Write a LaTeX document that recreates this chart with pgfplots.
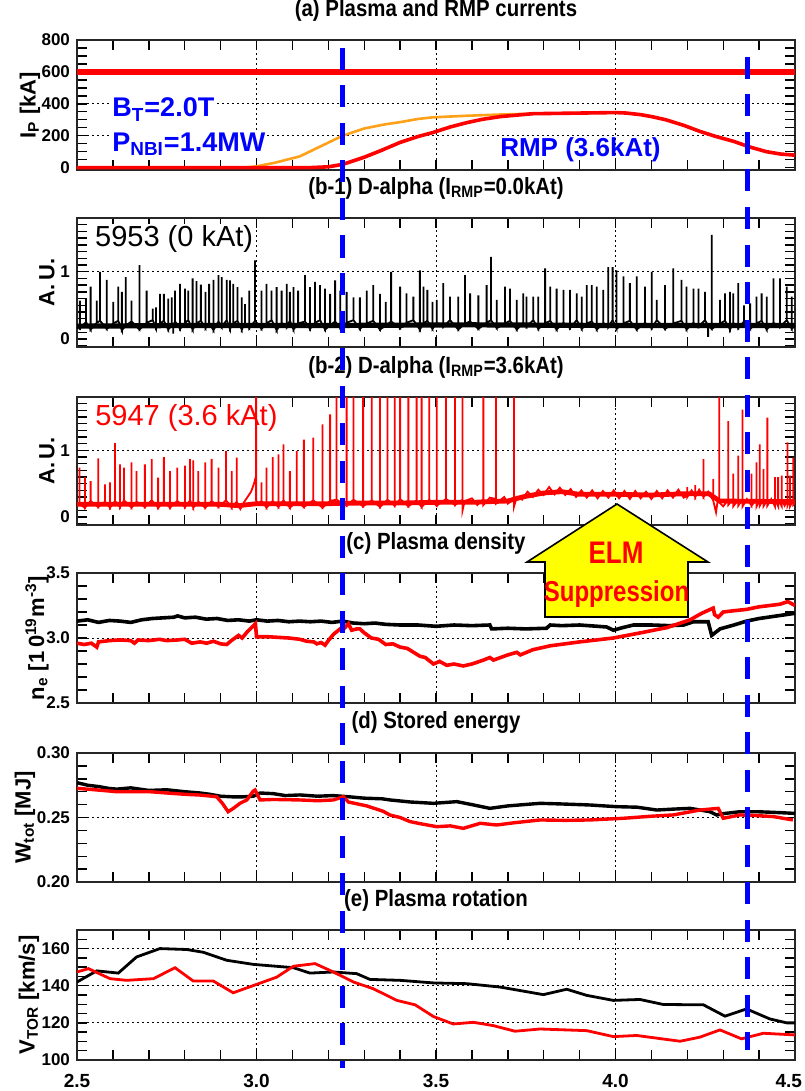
\documentclass[border=0pt]{standalone}
\usepackage{fontspec}
\setmainfont{Liberation Sans}
\usepackage{graphicx}
\usepackage{pgfplots}
\pgfplotsset{compat=1.18}
\definecolor{iorange}{RGB}{255,160,25}
\definecolor{iyellow}{RGB}{255,255,0}
\newcommand{\tall}[1]{\scalebox{1}[1.15]{#1}}
\pgfplotsset{
  panel/.style={
    scale only axis, width=359pt, xmin=2.5, xmax=4.5, anchor=north west,
    xtick={2.5,3,3.5,4,4.5}, minor xtick={2.6,2.7,2.8,2.9,3.1,3.2,3.3,3.4,3.6,3.7,3.8,3.9,4.1,4.2,4.3,4.4},
    xticklabels={},
    axis line style={line width=1pt, black!85},
    every tick/.style={black, line width=0.7pt},
    major tick length=5pt, minor tick length=5pt,
    xmajorgrids,
    major grid style={black, line width=0.5pt, dash pattern=on 0.9pt off 1.6pt},
    yticklabel style={font=\fontsize{8.5}{9}\selectfont\bfseries},
    xticklabel style={font=\fontsize{9.5}{10}\selectfont\bfseries},
    title style={font=\fontsize{10.2}{12}\selectfont\bfseries, at={(0.5,1)}, anchor=south, yshift=0pt},
    every axis y label/.style={rotate=90, anchor=center, font=\fontsize{11}{12}\selectfont\bfseries},
  }
}
\begin{document}
\begin{tikzpicture}
\path[use as bounding box] (0,0) rectangle (402pt,-545.5pt);

% ---------------- (a)
\begin{axis}[panel, at={(38.5pt,-20pt)}, height=65pt, ymin=-15, ymax=800,
  ytick={0,200,400,600,800}, yticklabels={0,200,400,600,800},
  minor ytick={50,100,150,250,300,350,450,500,550,650,700,750},
  extra y ticks={200,400,600}, extra y tick labels={}, extra y tick style={grid=major},
  title={\tall{(a) Plasma and RMP currents}},
  ylabel={I\textsubscript{P} [kA]}, ylabel style={at={(axis description cs:-0.0655,0.5)}}]
\node[anchor=base west, text=blue, fill=white, inner sep=1pt, font=\fontsize{13.5}{15}\selectfont\bfseries] at (rel axis cs:0.046,0.408) {B\textsubscript{T}=2.0T};
\node[anchor=base west, text=blue, fill=white, inner sep=1pt, font=\fontsize{13.5}{15}\selectfont\bfseries] at (rel axis cs:0.046,0.141) {P\textsubscript{NBI}=1.4MW};
\node[anchor=base west, text=blue, inner sep=0pt, font=\fontsize{13}{15}\selectfont\bfseries] at (rel axis cs:0.589,0.102) {RMP (3.6kAt)};
\addplot[iorange, line width=1.3pt] coordinates {(2.5,0) (2.97,0) (3.00,8) (3.05,30) (3.12,70) (3.18,135) (3.24,200) (3.30,245) (3.36,272) (3.40,285) (3.45,305) (3.49,315) (3.586,325) (3.68,333) (3.77,338) (3.87,341) (4.0,345)};
\addplot[red, line width=1.8pt] coordinates {(2.5,0) (3.15,0) (3.20,5) (3.24,20) (3.30,65) (3.35,110) (3.40,158) (3.45,195) (3.49,219) (3.54,255) (3.586,282) (3.63,303) (3.68,320) (3.77,338) (3.87,341) (4.00,345) (4.03,342) (4.07,332) (4.10,320) (4.14,300) (4.19,265) (4.235,227) (4.28,195) (4.33,164) (4.37,132) (4.42,100) (4.46,85) (4.5,78)};
\addplot[red, line width=3pt] coordinates {(2.5,600) (4.5,600)};
\end{axis}

% ---------------- (b-1)
\begin{axis}[panel, at={(38.5pt,-109pt)}, height=64.5pt, ymin=-0.12, ymax=1.8,
  ytick={0,1}, yticklabels={0,1},
  minor ytick={-0.1,0.1,0.2,0.3,0.4,0.5,0.6,0.7,0.8,0.9,1.1,1.2,1.3,1.4,1.5,1.6,1.7},
  extra y ticks={1}, extra y tick labels={}, extra y tick style={grid=major},
  title={\tall{(b-1) D-alpha (I\textsubscript{RMP}=0.0kAt)}},
  ylabel={A.\,U.}, ylabel style={at={(axis description cs:-0.0418,0.5)}}]
\node[anchor=base west, fill=white, inner sep=1pt, font=\fontsize{14.5}{16}\selectfont] at (rel axis cs:0.022,0.778) {5953 (0 kAt)};
\addplot[black, line width=2.6pt] coordinates {(2.5,0.19) (2.8,0.2) (3.2,0.2) (3.6,0.21) (4.0,0.2) (4.5,0.2)};
\addplot[black, line width=0.9pt] coordinates {(2.5,0.2)
(2.508,0.16)(2.508,0.57)(2.508,0.16) (2.525,0.25)(2.525,0.60)(2.525,0.25) (2.538,0.14)(2.538,0.78)(2.538,0.14)
(2.555,0.24)(2.555,0.57)(2.555,0.24) (2.564,0.27)(2.564,1.00)(2.564,0.27) (2.583,0.15)(2.583,0.88)(2.583,0.15)
(2.601,0.23)(2.601,0.55)(2.601,0.23) (2.615,0.27)(2.615,0.78)(2.615,0.27) (2.625,0.13)(2.625,0.70)(2.625,0.13)
(2.636,0.20)(2.636,0.92)(2.636,0.20) (2.652,0.26)(2.652,0.57)(2.652,0.26) (2.674,0.14)(2.674,1.10)(2.674,0.14)
(2.694,0.24)(2.694,0.72)(2.694,0.24) (2.711,0.28)(2.711,0.45)(2.711,0.28) (2.720,0.16)(2.720,0.47)(2.720,0.16)
(2.731,0.23)(2.731,0.67)(2.731,0.23) (2.742,0.27)(2.742,0.67)(2.742,0.27) (2.754,0.14)(2.754,0.60)(2.754,0.14)
(2.764,0.20)(2.764,0.62)(2.764,0.20) (2.768,0.20)(2.768,0.08)(2.768,0.20) (2.773,0.26)(2.773,0.72)(2.773,0.26)
(2.787,0.15)(2.787,0.82)(2.787,0.15) (2.801,0.24)(2.801,0.75)(2.801,0.24) (2.810,0.28)(2.810,0.72)(2.810,0.28)
(2.822,0.14)(2.822,0.90)(2.822,0.14) (2.833,0.23)(2.833,0.86)(2.833,0.23) (2.845,0.27)(2.845,0.81)(2.845,0.27)
(2.858,0.16)(2.858,0.70)(2.858,0.16) (2.868,0.24)(2.868,0.82)(2.868,0.24) (2.880,0.13)(2.880,0.88)(2.880,0.13)
(2.894,0.26)(2.894,0.95)(2.894,0.26) (2.903,0.18)(2.903,0.92)(2.903,0.18) (2.917,0.28)(2.917,0.88)(2.917,0.28)
(2.926,0.15)(2.926,0.87)(2.926,0.15) (2.935,0.23)(2.935,0.82)(2.935,0.23) (2.947,0.27)(2.947,0.77)(2.947,0.27)
(2.959,0.14)(2.959,0.62)(2.959,0.14) (2.968,0.24)(2.968,0.52)(2.968,0.24) (2.980,0.16)(2.980,0.72)(2.980,0.16)
(2.996,0.27)(2.996,1.17)(2.996,0.27) (3.014,0.15)(3.014,0.72)(3.014,0.15) (3.028,0.23)(3.028,0.82)(3.028,0.23)
(3.042,0.28)(3.042,0.72)(3.042,0.28) (3.056,0.13)(3.056,0.77)(3.056,0.13) (3.070,0.24)(3.070,0.72)(3.070,0.24)
(3.084,0.18)(3.084,0.82)(3.084,0.18) (3.093,0.27)(3.093,0.70)(3.093,0.27) (3.103,0.14)(3.103,0.77)(3.103,0.14)
(3.116,0.23)(3.116,0.72)(3.116,0.23) (3.135,0.26)(3.135,0.95)(3.135,0.26) (3.149,0.15)(3.149,0.77)(3.149,0.15)
(3.163,0.24)(3.163,0.85)(3.163,0.24) (3.177,0.28)(3.177,0.80)(3.177,0.28) (3.191,0.14)(3.191,0.75)(3.191,0.14)
(3.205,0.20)(3.205,0.67)(3.205,0.20) (3.219,0.26)(3.219,0.87)(3.219,0.26) (3.233,0.16)(3.233,0.72)(3.233,0.16)
(3.251,0.24)(3.251,0.70)(3.251,0.24) (3.270,0.28)(3.270,0.62)(3.270,0.28) (3.288,0.15)(3.288,0.62)(3.288,0.15)
(3.307,0.23)(3.307,0.72)(3.307,0.23) (3.325,0.27)(3.325,0.80)(3.325,0.27) (3.344,0.14)(3.344,0.67)(3.344,0.14)
(3.360,0.20)(3.360,0.55)(3.360,0.20) (3.375,0.26)(3.375,1.00)(3.375,0.26) (3.400,0.16)(3.400,0.78)(3.400,0.16)
(3.418,0.24)(3.418,0.68)(3.418,0.24) (3.437,0.28)(3.437,0.63)(3.437,0.28) (3.455,0.14)(3.455,1.02)(3.455,0.14)
(3.465,0.23)(3.465,0.78)(3.465,0.23) (3.476,0.27)(3.476,0.73)(3.476,0.27) (3.490,0.15)(3.490,0.55)(3.490,0.15)
(3.502,0.24)(3.502,0.58)(3.502,0.24) (3.520,0.18)(3.520,0.83)(3.520,0.18) (3.539,0.28)(3.539,0.63)(3.539,0.28)
(3.562,0.14)(3.562,0.63)(3.562,0.14) (3.581,0.23)(3.581,0.95)(3.581,0.23) (3.595,0.26)(3.595,0.68)(3.595,0.26)
(3.618,0.15)(3.618,0.65)(3.618,0.15) (3.641,0.24)(3.641,0.80)(3.641,0.24) (3.653,0.28)(3.653,1.22)(3.653,0.28)
(3.669,0.16)(3.669,0.58)(3.669,0.16) (3.692,0.23)(3.692,0.78)(3.692,0.23) (3.706,0.27)(3.706,0.75)(3.706,0.27)
(3.725,0.14)(3.725,0.58)(3.725,0.14) (3.743,0.24)(3.743,0.68)(3.743,0.24) (3.752,0.18)(3.752,0.63)(3.752,0.18)
(3.771,0.28)(3.771,0.63)(3.771,0.28) (3.785,0.15)(3.785,0.63)(3.785,0.15) (3.804,0.23)(3.804,1.05)(3.804,0.23)
(3.818,0.27)(3.818,0.78)(3.818,0.27) (3.836,0.14)(3.836,0.75)(3.836,0.14) (3.855,0.24)(3.855,0.73)(3.855,0.24)
(3.873,0.16)(3.873,0.73)(3.873,0.16) (3.892,0.28)(3.892,0.68)(3.892,0.28) (3.906,0.15)(3.906,0.63)(3.906,0.15)
(3.920,0.23)(3.920,0.80)(3.920,0.23) (3.934,0.26)(3.934,0.80)(3.934,0.26) (3.948,0.14)(3.948,0.78)(3.948,0.14)
(3.966,0.24)(3.966,0.73)(3.966,0.24) (3.980,0.18)(3.980,1.07)(3.980,0.18) (3.992,0.28)(3.992,1.07)(3.992,0.28)
(4.003,0.15)(4.003,1.02)(4.003,0.15) (4.022,0.23)(4.022,0.93)(4.022,0.23) (4.040,0.27)(4.040,0.83)(4.040,0.27)
(4.059,0.14)(4.059,0.93)(4.059,0.14) (4.082,0.24)(4.082,0.78)(4.082,0.24) (4.101,0.16)(4.101,1.00)(4.101,0.16)
(4.115,0.28)(4.115,0.58)(4.115,0.28) (4.138,0.15)(4.138,0.80)(4.138,0.15) (4.161,0.23)(4.161,1.05)(4.161,0.23)
(4.184,0.27)(4.184,0.88)(4.184,0.27) (4.198,0.14)(4.198,0.78)(4.198,0.14) (4.217,0.24)(4.217,0.75)(4.217,0.24)
(4.231,0.18)(4.231,0.75)(4.231,0.18) (4.249,0.28)(4.249,0.70)(4.249,0.28) (4.258,0.20)(4.258,0.03)(4.258,0.20)
(4.268,0.15)(4.268,1.55)(4.268,0.15) (4.291,0.23)(4.291,0.58)(4.291,0.23) (4.305,0.27)(4.305,0.68)(4.305,0.27)
(4.319,0.14)(4.319,0.70)(4.319,0.14) (4.328,0.24)(4.328,0.68)(4.328,0.24) (4.342,0.16)(4.342,0.83)(4.342,0.16)
(4.358,0.26)(4.358,0.50)(4.358,0.26) (4.375,0.15)(4.375,0.53)(4.375,0.15) (4.393,0.23)(4.393,0.63)(4.393,0.23)
(4.407,0.27)(4.407,0.68)(4.407,0.27) (4.421,0.14)(4.421,0.63)(4.421,0.14) (4.440,0.24)(4.440,0.90)(4.440,0.24)
(4.458,0.18)(4.458,0.90)(4.458,0.18) (4.477,0.28)(4.477,0.78)(4.477,0.28) (4.491,0.15)(4.491,0.63)(4.491,0.15)
(4.5,0.2)};
\end{axis}

% ---------------- (b-2)
\begin{axis}[panel, at={(38.5pt,-198.5pt)}, height=64pt, ymin=-0.12, ymax=1.8,
  ytick={0,1}, yticklabels={0,1},
  minor ytick={-0.1,0.1,0.2,0.3,0.4,0.5,0.6,0.7,0.8,0.9,1.1,1.2,1.3,1.4,1.5,1.6,1.7},
  extra y ticks={1}, extra y tick labels={}, extra y tick style={grid=major},
  title={\tall{(b-2) D-alpha (I\textsubscript{RMP}=3.6kAt)}},
  ylabel={A.\,U.}, ylabel style={at={(axis description cs:-0.0418,0.5)}}]
\node[anchor=base west, text=red, inner sep=0pt, font=\fontsize{14.5}{16}\selectfont] at (rel axis cs:0.025,0.781) {5947 (3.6 kAt)};
\addplot[red, line width=2.4pt] coordinates {(2.5,0.19) (2.6,0.19) (2.7,0.19) (2.8,0.19) (2.9,0.19) (2.95,0.17) (3.0,0.2) (3.1,0.2) (3.2,0.2) (3.3,0.21) (3.4,0.21) (3.5,0.22) (3.6,0.22) (3.7,0.24) (3.74,0.3) (3.8,0.36) (3.85,0.38) (3.9,0.34) (4.0,0.34) (4.1,0.33) (4.2,0.35) (4.26,0.35) (4.29,0.24) (4.5,0.23)};
\addplot[red, line width=0.9pt] coordinates {(2.5,0.18)
(2.507,0.19)(2.507,0.74)(2.507,0.19) (2.522,0.14)(2.522,0.60)(2.522,0.14) (2.538,0.24)(2.538,0.54)(2.538,0.24)
(2.559,0.15)(2.559,0.88)(2.559,0.15) (2.578,0.23)(2.578,0.49)(2.578,0.23) (2.592,0.14)(2.592,0.52)(2.592,0.14)
(2.606,0.24)(2.606,1.11)(2.606,0.24) (2.620,0.15)(2.620,0.79)(2.620,0.15) (2.631,0.25)(2.631,0.74)(2.631,0.25)
(2.652,0.14)(2.652,0.82)(2.652,0.14) (2.666,0.23)(2.666,0.69)(2.666,0.23) (2.689,0.15)(2.689,0.79)(2.689,0.15)
(2.708,0.25)(2.708,0.87)(2.708,0.25) (2.726,0.14)(2.726,0.59)(2.726,0.14) (2.742,0.23)(2.742,0.90)(2.742,0.23)
(2.759,0.14)(2.759,0.69)(2.759,0.14) (2.779,0.24)(2.779,0.74)(2.779,0.24) (2.801,0.15)(2.801,0.77)(2.801,0.15)
(2.815,0.25)(2.815,0.87)(2.815,0.25) (2.824,0.14)(2.824,0.85)(2.824,0.14) (2.838,0.23)(2.838,0.69)(2.838,0.23)
(2.857,0.14)(2.857,0.82)(2.857,0.14) (2.875,0.24)(2.875,0.87)(2.875,0.24) (2.894,0.15)(2.894,0.74)(2.894,0.15)
(2.915,0.25)(2.915,0.99)(2.915,0.25) (2.931,0.14)(2.931,0.69)(2.931,0.14) (2.945,0.23)(2.945,0.89)(2.945,0.23)
(2.955,0.12)(2.965,0.22)(2.975,0.30)(2.985,0.38)(2.993,0.50)(2.999,0.62)(2.999,1.90)(2.999,0.25)(3.004,0.20)
(3.014,0.24)(3.014,0.52)(3.014,0.24) (3.028,0.14)(3.028,0.74)(3.028,0.14) (3.045,0.24)(3.045,0.90)(3.045,0.24)
(3.061,0.15)(3.061,0.94)(3.061,0.15) (3.075,0.25)(3.075,1.09)(3.075,0.25) (3.093,0.14)(3.093,0.69)(3.093,0.14)
(3.112,0.23)(3.112,0.99)(3.112,0.23) (3.132,0.15)(3.132,1.16)(3.132,0.15) (3.158,0.25)(3.158,1.19)(3.158,0.25)
(3.184,0.14)(3.184,1.39)(3.184,0.14) (3.205,0.24)(3.205,1.54)(3.205,0.24) (3.223,0.26)(3.223,1.90)(3.223,0.26)
(3.251,0.17)(3.251,1.90)(3.251,0.17) (3.270,0.26)(3.270,1.90)(3.270,0.26) (3.297,0.16)(3.297,1.90)(3.297,0.16)
(3.321,0.25)(3.321,1.90)(3.321,0.25) (3.344,0.15)(3.344,1.90)(3.344,0.15) (3.365,0.26)(3.365,1.90)(3.365,0.26)
(3.385,0.17)(3.385,1.90)(3.385,0.17) (3.400,0.27)(3.400,1.90)(3.400,0.27) (3.423,0.16)(3.423,1.90)(3.423,0.16)
(3.446,0.25)(3.446,1.90)(3.446,0.25) (3.460,0.15)(3.460,1.90)(3.460,0.15) (3.481,0.26)(3.481,1.90)(3.481,0.26)
(3.502,0.17)(3.502,1.90)(3.502,0.17) (3.528,0.27)(3.528,1.90)(3.528,0.27) (3.553,0.18)(3.553,1.90)(3.553,0.18)
(3.574,0.26)(3.574,1.90)(3.574,0.10)(3.580,0.24) (3.60,0.28)(3.615,0.18)
(3.632,0.27)(3.632,1.90)(3.632,0.18) (3.65,0.29)
(3.667,0.27)(3.667,1.90)(3.667,0.20) (3.69,0.30)(3.70,0.20)
(3.717,0.27)(3.717,1.90)(3.717,0.15)
(3.725,0.30)(3.74,0.26)(3.755,0.38)(3.77,0.30)(3.785,0.41)(3.80,0.33)(3.815,0.45)(3.83,0.34)(3.845,0.44)(3.86,0.33)(3.875,0.42)(3.89,0.30)(3.905,0.40)(3.92,0.29)(3.935,0.40)(3.95,0.28)(3.965,0.39)(3.98,0.29)(3.995,0.40)(4.01,0.28)(4.025,0.39)(4.04,0.27)(4.055,0.39)(4.07,0.28)(4.085,0.38)(4.10,0.27)(4.115,0.39)(4.13,0.28)(4.145,0.40)(4.16,0.29)(4.175,0.41)(4.19,0.29)
(4.200,0.32)(4.200,0.45)(4.200,0.30) (4.212,0.40) (4.222,0.30)(4.222,0.48)(4.222,0.30) (4.233,0.41) (4.245,0.30)(4.245,0.87)(4.245,0.30)
(4.258,0.38) (4.272,0.25)(4.272,0.57)(4.272,0.25) (4.280,0.07)(4.284,0.22)
(4.289,0.22)(4.289,1.90)(4.289,0.22) (4.300,0.16) (4.314,0.26)(4.314,1.44)(4.314,0.18) (4.328,0.27)(4.328,0.65)(4.328,0.16)
(4.342,0.26)(4.342,0.92)(4.342,0.17) (4.354,0.27)(4.354,1.61)(4.354,0.16) (4.366,0.27) (4.379,0.17)(4.379,0.65)(4.379,0.17)
(4.393,0.27)(4.393,0.82)(4.393,0.16) (4.402,0.26)(4.402,1.09)(4.402,0.17) (4.412,0.27)(4.412,0.72)(4.412,0.16)
(4.423,0.26)(4.423,1.49)(4.423,0.17) (4.434,0.27) (4.444,0.16)(4.444,0.60)(4.444,0.27) (4.453,0.16)(4.453,0.60)(4.453,0.26)
(4.463,0.16)(4.463,0.62)(4.463,0.27) (4.471,0.17) (4.479,0.26)(4.479,1.12)(4.479,0.17) (4.486,0.27)(4.486,0.62)(4.486,0.16)
(4.495,0.26)(4.495,0.89)(4.495,0.18) (4.5,0.21)};
\end{axis}

% ---------------- (c)
\begin{axis}[panel, at={(38.5pt,-286.5pt)}, height=65pt, ymin=2.5, ymax=3.5,
  ytick={2.5,3.0,3.5}, yticklabels={2.5,3.0,3.5}, ymajorgrids,
  minor ytick={2.6,2.7,2.8,2.9,3.1,3.2,3.3,3.4},
  title={\tall{(c) Plasma density}},
  ylabel={n\textsubscript{e} [1\,0\textsuperscript{19}m\textsuperscript{-3}]}, ylabel style={at={(axis description cs:-0.0557,0.5)}}]
\addplot[black, line width=1.8pt] coordinates {(2.50,3.13) (2.53,3.14) (2.56,3.12) (2.59,3.135) (2.62,3.13) (2.65,3.12) (2.68,3.14) (2.71,3.15) (2.74,3.155) (2.77,3.16) (2.78,3.17) (2.80,3.155) (2.83,3.16) (2.86,3.145) (2.89,3.15) (2.92,3.135) (2.95,3.14) (2.98,3.13) (3.00,3.14) (3.03,3.13) (3.06,3.135) (3.09,3.125) (3.12,3.13) (3.15,3.125) (3.18,3.13) (3.21,3.12) (3.24,3.13) (3.27,3.115) (3.30,3.11) (3.33,3.115) (3.36,3.105) (3.40,3.10) (3.45,3.10) (3.50,3.09) (3.55,3.10) (3.60,3.095) (3.65,3.10) (3.655,3.07) (3.70,3.075) (3.75,3.07) (3.808,3.075) (3.818,3.10) (3.85,3.095) (3.90,3.10) (3.95,3.09) (3.975,3.085) (3.994,3.06) (4.02,3.08) (4.05,3.10) (4.10,3.10) (4.15,3.095) (4.19,3.10) (4.217,3.125) (4.258,3.125) (4.268,3.02) (4.291,3.07) (4.33,3.10) (4.365,3.13) (4.40,3.15) (4.45,3.17) (4.50,3.19)};
\addplot[red, line width=1.8pt] coordinates {(2.50,2.96) (2.52,2.95) (2.54,2.96) (2.555,2.93) (2.56,2.97) (2.59,2.98) (2.62,2.985) (2.65,2.98) (2.66,2.96) (2.67,2.985) (2.70,2.98) (2.73,2.99) (2.75,2.98) (2.78,2.985) (2.80,2.99) (2.82,2.96) (2.843,2.97) (2.861,2.96) (2.88,2.975) (2.90,2.955) (2.917,2.95) (2.93,2.98) (2.95,3.02) (2.96,3.00) (2.975,3.05) (2.99,3.09) (2.997,3.11) (3.00,3.01) (3.03,3.01) (3.06,3.005) (3.09,3.00) (3.121,2.99) (3.14,2.975) (3.16,2.97) (3.168,2.955) (3.18,2.965) (3.191,2.945) (3.20,2.98) (3.215,3.03) (3.233,3.07) (3.24,3.06) (3.256,3.11) (3.265,3.06) (3.28,3.07) (3.288,3.07) (3.30,3.04) (3.32,3.00) (3.34,2.99) (3.36,2.95) (3.38,2.955) (3.40,2.93) (3.42,2.92) (3.455,2.86) (3.47,2.85) (3.493,2.80) (3.51,2.82) (3.53,2.79) (3.55,2.80) (3.576,2.785) (3.60,2.80) (3.632,2.83) (3.65,2.85) (3.66,2.83) (3.70,2.87) (3.725,2.89) (3.735,2.87) (3.77,2.91) (3.818,2.94) (3.90,2.97) (3.994,3.00) (4.07,3.04) (4.143,3.08) (4.208,3.14) (4.240,3.19) (4.272,3.23) (4.276,3.18) (4.286,3.16) (4.300,3.20) (4.33,3.21) (4.365,3.22) (4.40,3.24) (4.43,3.25) (4.458,3.26) (4.48,3.28) (4.50,3.25)};
\end{axis}

% ---------------- (d)
\begin{axis}[panel, at={(38.5pt,-376.5pt)}, height=64.5pt, ymin=0.2, ymax=0.3,
  ytick={0.2,0.25,0.3}, yticklabels={0.20,0.25,0.30}, ymajorgrids,
  minor ytick={0.21,0.22,0.23,0.24,0.26,0.27,0.28,0.29},
  title={\tall{(d) Stored energy}},
  ylabel={W\textsubscript{tot} [MJ]}, ylabel style={at={(axis description cs:-0.0724,0.5)}}]
\addplot[black, line width=1.7pt] coordinates {(2.50,0.277) (2.53,0.275) (2.56,0.274) (2.59,0.2725) (2.611,0.272) (2.65,0.273) (2.70,0.271) (2.75,0.2715) (2.80,0.270) (2.843,0.269) (2.87,0.268) (2.90,0.2665) (2.935,0.266) (2.96,0.266) (2.991,0.2665) (3.01,0.269) (3.047,0.2685) (3.08,0.267) (3.121,0.2675) (3.17,0.2665) (3.214,0.267) (3.26,0.266) (3.30,0.265) (3.35,0.2645) (3.372,0.2636) (3.43,0.262) (3.493,0.261) (3.558,0.2623) (3.60,0.260) (3.650,0.2571) (3.70,0.259) (3.790,0.261) (3.85,0.2605) (3.929,0.2597) (4.003,0.2584) (4.06,0.258) (4.115,0.2558) (4.16,0.2565) (4.208,0.2571) (4.263,0.2545) (4.282,0.2519) (4.30,0.253) (4.347,0.2545) (4.393,0.2545) (4.44,0.254) (4.50,0.2532)};
\addplot[red, line width=1.7pt] coordinates {(2.50,0.2726) (2.55,0.2715) (2.611,0.270) (2.65,0.270) (2.703,0.270) (2.75,0.269) (2.80,0.268) (2.843,0.2674) (2.889,0.2661) (2.905,0.261) (2.921,0.2545) (2.935,0.257) (2.954,0.2610) (2.973,0.2636) (2.991,0.2705) (2.996,0.2713) (3.010,0.2636) (3.047,0.264) (3.121,0.2636) (3.17,0.263) (3.214,0.2636) (3.242,0.2661) (3.256,0.262) (3.270,0.2612) (3.307,0.259) (3.353,0.2548) (3.372,0.2519) (3.40,0.250) (3.428,0.2468) (3.46,0.245) (3.502,0.2429) (3.54,0.2435) (3.576,0.2416) (3.623,0.2455) (3.669,0.2442) (3.72,0.246) (3.790,0.2481) (3.86,0.2478) (3.929,0.2481) (4.022,0.2494) (4.10,0.251) (4.161,0.2520) (4.235,0.2558) (4.286,0.2571) (4.300,0.2494) (4.347,0.2520) (4.393,0.2515) (4.440,0.2507) (4.494,0.2481)};
\end{axis}

% ---------------- (e)
\begin{axis}[panel, at={(38.5pt,-465pt)}, height=65pt, ymin=100, ymax=170,
  ytick={100,120,140,160}, yticklabels={100,120,140,160}, ymajorgrids,
  minor ytick={105,110,115,125,130,135,145,150,155,165},
  xticklabels={2.5,3.0,3.5,4.0,\makebox[0pt][r]{4.5\kern-3.5pt}}, xticklabel style={yshift=-3.5pt},
  title={\tall{(e) Plasma rotation}},
  ylabel={V\textsubscript{TOR} [km/s]}, ylabel style={at={(axis description cs:-0.0669,0.5)}}]
\addplot[black, line width=1.4pt] coordinates {(2.50,142) (2.555,148) (2.615,146.8) (2.666,155.5) (2.731,160) (2.806,159.5) (2.852,158) (2.917,153.7) (2.991,151.5) (3.103,149.7) (3.149,146.8) (3.214,147.4) (3.279,146.5) (3.316,143.4) (3.40,142.9) (3.493,141.5) (3.586,141.1) (3.678,139.3) (3.799,135.2) (3.864,138.1) (3.920,134.8) (3.994,132.1) (4.068,132.6) (4.133,129.9) (4.245,129.7) (4.305,123.6) (4.365,127.5) (4.430,122.1) (4.477,120) (4.50,120)};
\addplot[red, line width=1.4pt] coordinates {(2.50,147.4) (2.532,149.2) (2.592,143.8) (2.638,142.9) (2.713,143.8) (2.773,149.7) (2.824,142.5) (2.880,142.5) (2.935,136.2) (3.00,140.7) (3.056,144.6) (3.103,150.5) (3.163,151.9) (3.214,147.4) (3.270,142) (3.325,138.4) (3.391,132.1) (3.442,129.7) (3.493,123.4) (3.548,119.4) (3.604,120.3) (3.660,118.5) (3.720,115.5) (3.790,116.7) (3.920,115.8) (3.994,112.6) (4.059,113.2) (4.180,110.1) (4.235,112.3) (4.291,116.2) (4.351,111.4) (4.412,114.4) (4.50,113.5)};
\end{axis}

% ---------------- overlay: RMP on/off markers
\begin{axis}[at={(38.5pt,0pt)}, anchor=north west, scale only axis, width=359pt, height=545.5pt,
  xmin=2.5, xmax=4.5, ymin=-1091, ymax=0, hide axis, clip=false]
\addplot[blue, line width=2.5pt, dash pattern=on 11pt off 7.75pt] coordinates {(3.24,-48) (3.24,-1068)};
\addplot[blue, line width=2.5pt, dash pattern=on 11pt off 7.75pt] coordinates {(4.368,-57) (4.368,-1050)};
\end{axis}

% ---------------- ELM suppression arrow (pixel frame)
\begin{scope}[x=0.5pt,y=-0.5pt]
\draw[black, line width=0.8pt, fill=iyellow] (617,504) -- (708,562) -- (688,562) -- (688,617) -- (545,617) -- (545,562) -- (527,562) -- cycle;
\node[anchor=base, text=red, inner sep=0pt, font=\fontsize{13}{14}\selectfont\bfseries] at (616,563) {\scalebox{1}[1.2]{ELM}};
\node[anchor=base, text=red, inner sep=0pt, font=\fontsize{12}{14}\selectfont\bfseries] at (616.5,601.5) {\scalebox{1}[1.2]{Suppression}};
\end{scope}
\end{tikzpicture}
\end{document}
